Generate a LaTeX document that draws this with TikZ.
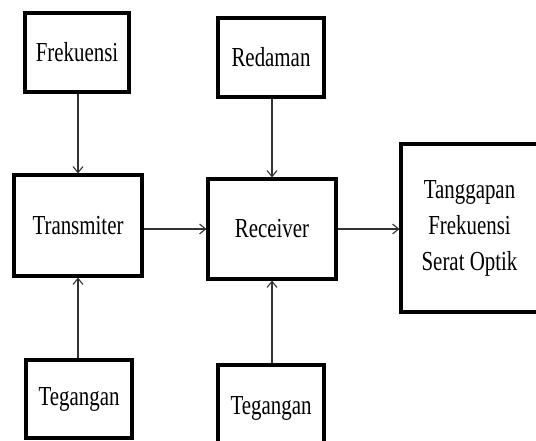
\documentclass[tikz,border=0pt]{standalone}
\usepackage{fontspec}
\setmainfont[FakeStretch=0.76]{Liberation Serif}
\usetikzlibrary{arrows.meta}
\begin{document}
\begin{tikzpicture}[x=1pt,y=-1pt,
  blok/.style={draw=black, line width=3.2pt, fill=white, align=center, inner sep=0pt,
    font=\fontsize{27.5pt}{36pt}\selectfont},
  panah/.style={line width=1.1pt, draw=black!80, -{Straight Barb[length=6pt,width=10pt]}}]
\useasboundingbox (0,0) rectangle (536,441);
\clip (0,0) rectangle (536,441);
\node[blok, minimum width=104pt, minimum height=79pt] (frek) at (77,52.5) {Frekuensi};
\node[blok, minimum width=106pt, minimum height=79pt] (red) at (271,57.5) {Redaman};
\node[blok, minimum width=128pt, minimum height=101pt] (trans) at (78,225.5) {Transmiter};
\node[blok, minimum width=128pt, minimum height=100pt] (recv) at (272,229) {Receiver};
\node[blok, minimum width=137pt, minimum height=168pt] (tang) at (469.5,228) {Tanggapan\\Frekuensi\\Serat Optik};
\node[blok, minimum width=106pt, minimum height=78pt] (teg1) at (79,399) {Tegangan};
\node[blok, minimum width=106pt, minimum height=86pt] (teg2) at (271,408) {Tegangan};
\draw[panah] (frek.south -| trans) -- (trans.north);
\draw[panah] (red.south -| recv) -- (recv.north);
\draw[panah] (teg1.north -| trans) -- (trans.south);
\draw[panah] (teg2.north -| recv) -- (recv.south);
\draw[panah] (trans.east |- recv) -- (recv.west);
\draw[panah] (recv.east) -- (recv.east -| tang.west);
\end{tikzpicture}
\end{document}
